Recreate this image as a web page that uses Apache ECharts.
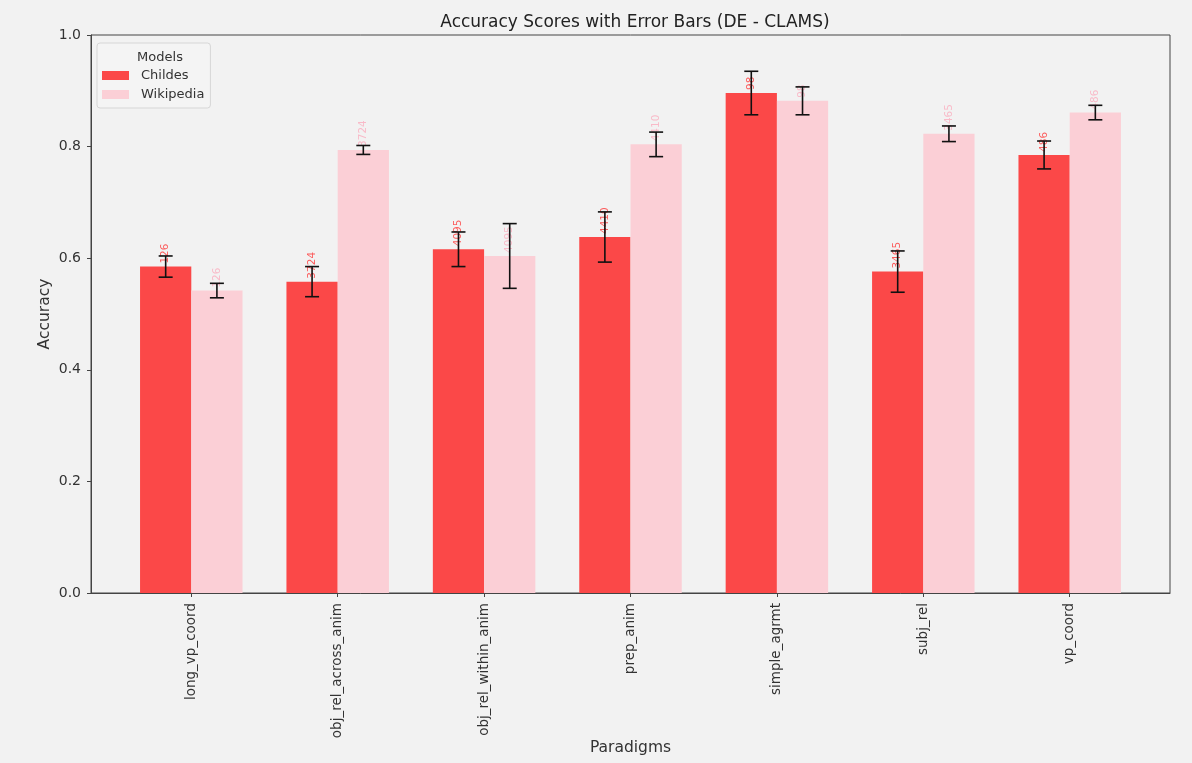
<!DOCTYPE html>
<html>
<head>
<meta charset="utf-8">
<title>Accuracy Scores with Error Bars (DE - CLAMS)</title>
<script src="https://cdn.jsdelivr.net/npm/echarts@6/dist/echarts.min.js"></script>
<style>
  html, body { margin: 0; padding: 0; background: #f2f2f2; }
  #chart { width: 1192px; height: 763px; }
</style>
</head>
<body>
<div id="chart"></div>
<script>
// Paradigms on the x axis
const categories = ['long_vp_coord', 'obj_rel_across_anim', 'obj_rel_within_anim',
  'prep_anim', 'simple_agrmt', 'subj_rel', 'vp_coord'];

// Mean accuracy per paradigm and model
const childesAcc   = [0.585, 0.558, 0.616, 0.638, 0.896, 0.576, 0.785];
const wikipediaAcc = [0.542, 0.794, 0.604, 0.804, 0.882, 0.823, 0.861];

// Half-width of the error bars
const childesErr   = [0.019, 0.027, 0.031, 0.045, 0.039, 0.037, 0.025];
const wikipediaErr = [0.013, 0.008, 0.058, 0.022, 0.025, 0.014, 0.013];

// Number of test items, printed above each bar
const itemCounts = ['126', '3724', '4095', '4410', '98', '3465', '486'];

const BAR_W = 0.35;
const FONT = 'DejaVu Sans';

function makeSeries(name, acc, err, offset, fill, labelColor) {
  return {
    name: name,
    type: 'custom',
    itemStyle: { color: fill },
    data: acc.map((v, i) => [i, v, err[i], i]),
    encode: { x: 0, y: 1 },
    renderItem: function (params, api) {
      const i = api.value(0);
      const v = api.value(1);
      const e = api.value(2);
      const cx = i + offset;
      const tl = api.coord([cx - BAR_W / 2, v]);
      const br = api.coord([cx + BAR_W / 2, 0]);
      const mid = api.coord([cx, v]);
      const hi = api.coord([cx, v + e]);
      const lo = api.coord([cx, v - e]);
      const cap = 7;
      const lineStyle = { stroke: '#111', lineWidth: 1.6 };
      return {
        type: 'group',
        children: [
          {
            type: 'rect',
            shape: { x: tl[0], y: tl[1], width: br[0] - tl[0], height: br[1] - tl[1] },
            style: { fill: fill }
          },
          {
            type: 'text',
            x: mid[0],
            y: mid[1] - 3,
            rotation: Math.PI / 2,
            style: {
              text: itemCounts[api.value(3)],
              fill: labelColor,
              font: '10.5px "' + FONT + '"',
              align: 'left',
              verticalAlign: 'middle'
            }
          },
          { type: 'line', shape: { x1: hi[0], y1: hi[1], x2: lo[0], y2: lo[1] }, style: lineStyle },
          { type: 'line', shape: { x1: hi[0] - cap, y1: hi[1], x2: hi[0] + cap, y2: hi[1] }, style: lineStyle },
          { type: 'line', shape: { x1: lo[0] - cap, y1: lo[1], x2: lo[0] + cap, y2: lo[1] }, style: lineStyle }
        ]
      };
    }
  };
}

const chart = echarts.init(document.getElementById('chart'), null, { renderer: 'canvas' });

chart.setOption({
  backgroundColor: '#f2f2f2',
  animation: false,
  textStyle: { fontFamily: FONT },
  title: [
    {
      text: 'Accuracy Scores with Error Bars (DE - CLAMS)',
      left: 630, top: 9, textAlign: 'center',
      textStyle: { fontFamily: FONT, fontSize: 17, fontWeight: 'normal', color: '#222' }
    },
    {
      text: 'Models',
      left: 155, top: 46, textAlign: 'center',
      textStyle: { fontFamily: FONT, fontSize: 13, fontWeight: 'normal', color: '#333' }
    }
  ],
  legend: {
    data: ['Childes', 'Wikipedia'],
    orient: 'vertical',
    left: 97, top: 43,
    icon: 'rect',
    itemWidth: 27, itemHeight: 9,
    itemGap: 6,
    padding: [26, 6, 7, 5],
    backgroundColor: '#f4f4f4',
    borderColor: '#d6d6d6',
    borderWidth: 1,
    borderRadius: 3,
    textStyle: { fontFamily: FONT, fontSize: 13, color: '#333', padding: [0, 0, 0, 7] }
  },
  grid: {
    left: 91, right: 22, top: 35, bottom: 170,
    outerBoundsMode: 'none',
    containLabel: false,
    show: true, borderColor: '#444', borderWidth: 1, backgroundColor: 'transparent'
  },
  xAxis: {
    type: 'value',
    min: -0.685, max: 6.685,
    name: 'Paradigms',
    nameLocation: 'middle',
    nameGap: 147,
    nameMoveOverlap: false,
    nameTextStyle: { fontFamily: FONT, fontSize: 15.5, color: '#333' },
    splitLine: { show: false },
    axisLine: { show: true, onZero: false, lineStyle: { color: '#444' } },
    axisTick: { show: true, length: 4, lineStyle: { color: '#444' }, customValues: categories.map((c, i) => i) },
    axisLabel: {
      customValues: categories.map((c, i) => i),
      rotate: 90,
      margin: 10,
      fontFamily: FONT, fontSize: 13.5, color: '#333',
      formatter: v => categories[Math.round(v)]
    }
  },
  yAxis: {
    type: 'value',
    min: 0, max: 1, interval: 0.2,
    name: 'Accuracy',
    nameLocation: 'middle',
    nameGap: 38,
    nameMoveOverlap: false,
    nameTextStyle: { fontFamily: FONT, fontSize: 15.5, color: '#333' },
    splitLine: { show: false },
    axisLine: { show: true, onZero: false, lineStyle: { color: '#444' } },
    axisTick: { show: true, length: 4, lineStyle: { color: '#444' } },
    axisLabel: {
      margin: 10,
      fontFamily: FONT, fontSize: 14, color: '#333',
      formatter: v => v.toFixed(1)
    }
  },
  series: [
    makeSeries('Childes', childesAcc, childesErr, -BAR_W / 2, '#fb4848', 'rgba(255,40,40,0.75)'),
    makeSeries('Wikipedia', wikipediaAcc, wikipediaErr, BAR_W / 2, '#fbcfd6', 'rgba(250,180,195,0.9)')
  ]
});
</script>
</body>
</html>
